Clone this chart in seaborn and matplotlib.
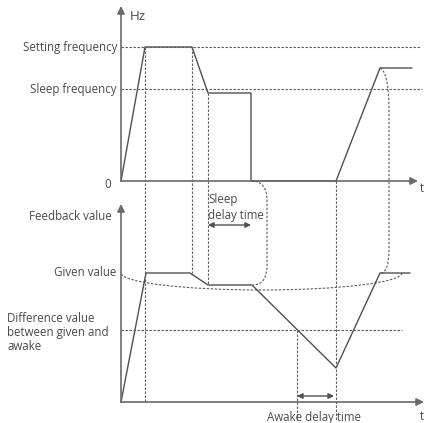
import matplotlib
matplotlib.use("Agg")
import matplotlib.pyplot as plt
from matplotlib.patches import Arc, PathPatch
from matplotlib.path import Path
import pandas as pd
import seaborn as sns

sns.set_style("white")
plt.rcParams["font.family"] = ["Open Sans", "DejaVu Sans"]

# Canvas coordinates (pixels, y grows downward)
X0 = 121                 # shared time origin of both panels
TOP_BASE = 181           # 0 Hz line of the frequency panel
BOT_BASE = 402           # zero line of the feedback panel

# Key instants on the time axis
t_accel_end = 145
t_decel = 192
t_sleep_lvl = 208
t_sleep = 251
t_wake = 336
t_wake_end = 380
t_awake_cross = 297

# Reference levels
setting_freq_y = 47
sleep_freq_y = 89
given_y = 273
diff_y = 330

# Output frequency curve
freq_t = [121, 145, 192, 208, 251, 251, 336, 380, 412]
freq_v = [181, 47, 47, 93, 93, 181, 181, 68, 68]

# Feedback value curve
fb_t = [121, 146, 190, 208, 252, 336, 380, 410]
fb_v = [402, 273, 273, 285, 285, 368, 273, 273]

INK = "#505050"
AXIS = "#6a6a6a"
DASH = "#5e5e5e"
TXT = "#4a4a4a"
FS = 8.3
dash = (0, (2.2, 1.4))
DLW = 0.8

fig = plt.figure(figsize=(4.24, 4.23), dpi=100)
ax = fig.add_axes([0, 0, 1, 1])


def arrow(x1, y1, x2, y2, style="-|>", ms=11, lw=1.2, color=AXIS):
    ax.annotate("", xy=(x2, y2), xytext=(x1, y1),
                arrowprops=dict(arrowstyle=style, color=color, lw=lw,
                                mutation_scale=ms, shrinkA=0, shrinkB=0))


def guide(xs, ys):
    ax.plot(xs, ys, color=DASH, lw=DLW, ls=dash)


# Curves
df_f = pd.DataFrame({"t": freq_t, "v": freq_v})
df_b = pd.DataFrame({"t": fb_t, "v": fb_v})
sns.lineplot(data=df_f, x="t", y="v", sort=False, estimator=None,
             color=INK, lw=1.0, ax=ax)
sns.lineplot(data=df_b, x="t", y="v", sort=False, estimator=None,
             color=INK, lw=1.0, ax=ax)
ax.set_xlim(0, 424)
ax.set_ylim(423, 0)
ax.axis("off")

# Axes with arrowheads
arrow(X0, TOP_BASE, X0, 6)
arrow(X0, TOP_BASE, 418, TOP_BASE)
arrow(X0, BOT_BASE, X0, 204)
arrow(X0, BOT_BASE, 424, BOT_BASE)

# Horizontal reference lines
guide([X0, 420], [setting_freq_y] * 2)
guide([X0, 422], [sleep_freq_y] * 2)
guide([X0, 402], [diff_y] * 2)

# Vertical guide lines
guide([t_accel_end] * 2, [setting_freq_y, BOT_BASE])
guide([t_decel] * 2, [setting_freq_y, given_y])
guide([t_sleep_lvl] * 2, [93, 285])
guide([t_wake] * 2, [TOP_BASE, 420])
guide([t_awake_cross] * 2, [diff_y, 420])

# Given value band (lower half ellipse)
ax.add_patch(Arc((261.5, given_y), 281, 34, theta1=0, theta2=180,
                 color=DASH, lw=DLW, ls=dash))


# Rounded brackets linking the panels
def bracket(pts):
    codes = [Path.MOVETO, Path.CURVE3, Path.CURVE3, Path.LINETO,
             Path.CURVE3, Path.CURVE3]
    ax.add_patch(PathPatch(Path(pts, codes), fill=False, edgecolor=DASH,
                           lw=DLW, ls=dash))


bracket([(251, 181), (267, 181), (267, 200), (267, 265), (267, 285), (253, 285)])
bracket([(380, 68), (389, 72), (389, 110), (389, 250), (389, 272), (381, 273)])

# Delay time arrows
arrow(t_sleep_lvl, 225, t_sleep, 225, style="<|-|>", ms=8, lw=1.0, color=INK)
arrow(t_awake_cross, 396, t_wake - 2, 396, style="<|-|>", ms=8, lw=1.0, color=INK)

# Labels
kw = dict(fontsize=FS, color=TXT, va="center")
ax.text(130, 16, "Hz", ha="left", fontsize=9.6, color=TXT, va="center")
ax.text(117, setting_freq_y, "Setting frequency", ha="right", **kw)
ax.text(117, sleep_freq_y, "Sleep frequency", ha="right", **kw)
ax.text(108, 184, "0", ha="center", **kw)
ax.text(420, 189, "t", ha="left", **kw)
ax.text(112, 216, "Feedback value", ha="right", **kw)
ax.text(116, given_y, "Given value", ha="right", **kw)
ax.text(7, 318, "Difference value", ha="left", **kw)
ax.text(7, 332.5, "between given and", ha="left", **kw)
ax.text(7, 347, "awake", ha="left", **kw)
ax.text(208, 200, "Sleep", ha="left", **kw)
ax.text(208, 215, "delay time", ha="left", **kw)
ax.text(314, 417, "Awake delay time", ha="center", **kw)
ax.text(420, 417, "t", ha="left", **kw)

fig.savefig("out.png", dpi=100)
